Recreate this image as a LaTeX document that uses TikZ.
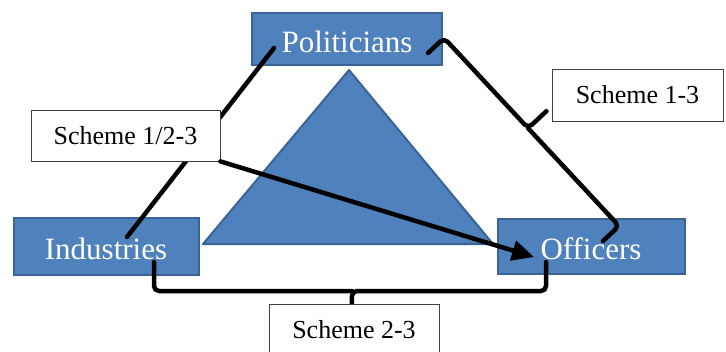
\documentclass[tikz,border=0pt]{standalone}
\usepackage{fontspec}
\setmainfont{Liberation Serif}
\usepackage{tikz}
\usetikzlibrary{calc}
\usetikzlibrary{arrows.meta}
\definecolor{boxblue}{HTML}{4F81BD}
\definecolor{edgeblue}{HTML}{3B6496}
\tikzset{
  actor/.style={draw=edgeblue, line width=2pt, fill=boxblue, text=white, font=\fontsize{31}{31}\selectfont, inner sep=0pt, text height=27pt, text depth=0pt},
  scheme/.style={draw=black!75, line width=0.8pt, fill=white, font=\fontsize{26}{26}\selectfont, minimum height=52pt, inner sep=0pt},
  link/.style={line width=4.5pt, line join=round, line cap=round},
}
% bracket: start, end, offset, tip, aspect
\newcommand{\bracket}[5]{%
  \coordinate (m) at ($(#1)!#5!(#2)$);
  \draw[link, rounded corners=5pt] (#1) -- ($(#1)!#3!90:(#2)$) -- ($(m)!#3!90:(#2)$) -- ($(m)!#4!90:(#2)$);
  \draw[link, rounded corners=5pt] (#2) -- ($(#2)!#3!-90:(#1)$) -- ($(m)!#3!90:(#2)$);
}

\begin{document}
\begin{tikzpicture}[x=1pt,y=-1pt]
\useasboundingbox (0,0) rectangle (726,351);
\node[actor, minimum width=190pt, minimum height=52pt] (pol) at (347,39) {Politicians};
\node[actor, minimum width=185pt, minimum height=57pt] (ind) at (106,246) {Industries};
\node[actor, minimum width=187pt, minimum height=55pt] (off) at (591,246) {Officers};
\draw [draw=edgeblue, line width=2pt, fill=boxblue, line join=round] (349,70) -- (493,244) -- (203,244) -- cycle;

\coordinate (p13) at ([shift={(-15,14)}]pol.east);
\coordinate (o13) at ([shift={(12,23.5)}]off.north);
\coordinate (p12) at ([shift={(23,9)}]pol.west);
\coordinate (i12) at ([shift={(21,20.5)}]ind.north);
\coordinate (i23) at ([shift={(-45.5,16)}]ind.east);
\coordinate (o23) at ([shift={(49.5,16)}]off.west);
\coordinate (o123) at ([shift={(37.5,11)}]off.west);

\bracket{p13}{o13}{22pt}{47pt}{0.48}
\bracket{o23}{i23}{29pt}{42pt}{0.495}
\draw [link] (p12) -- (i12);

\node[scheme, minimum width=171pt] (lab13) at (637.5,95) {Scheme 1-3};
\node[scheme, minimum width=189pt, minimum height=51pt] (lab123) at (125.5,135.5) {Scheme 1/2-3};
\node[scheme, minimum width=170pt] (lab23) at (354,330) {Scheme 2-3};
\draw [link, -{Triangle[length=22pt,width=20pt]}] (lab123.south east) -- (o123);
\end{tikzpicture}
\end{document}
